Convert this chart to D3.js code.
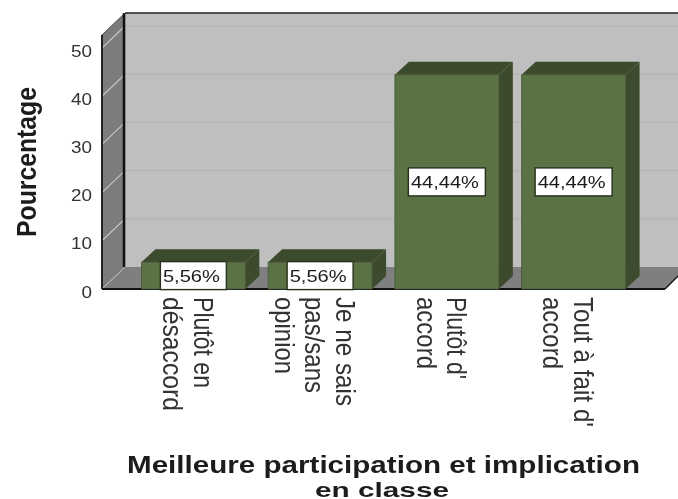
<!DOCTYPE html>
<html><head><meta charset="utf-8">
<style>html,body{margin:0;padding:0;background:#fff}svg{display:block;filter:blur(0.5px)}text{font-family:"Liberation Sans",Arial,sans-serif;fill:#1c1c1c}</style>
<script src="https://cdn.jsdelivr.net/npm/d3@7"></script></head><body>
<script>
const categories=["Plutôt en désaccord","Je ne sais pas/sans opinion","Plutôt d' accord","Tout à fait d' accord"];
const categoryLines=[["Plutôt en","désaccord"],["Je ne sais","pas/sans","opinion"],["Plutôt d'","accord"],["Tout à fait d'","accord"]];
const lineLengths=[[91,114],[109,96,77],[82,72],[130,72]];
const values=[5.56,5.56,44.44,44.44];
const valueLabels=["5,56%","5,56%","44,44%","44,44%"];
const yTicks=[0,10,20,30,40,50];
const yTitle="Pourcentage";
const xTitle=["Meilleure participation et implication","en classe"];

const W=678,H=499,dx=23,dy=22,bdx=14,bdy=13;
const svg=d3.select("body").append("svg").attr("width",W).attr("height",H);
const y=d3.scaleLinear().domain([0,50]).range([289,48]);
const x=d3.scaleBand().domain(categories).range([130,637]).paddingInner(0.18).paddingOuter(0.09);
const plotL=102,plotR=665,y0=y(0),plotT=y(50)-13;

const poly=(p,f)=>svg.append("polygon").attr("points",p.map(d=>d.join(",")).join(" ")).attr("fill",f);
const ln=(x1,y1,x2,y2,c,w)=>svg.append("line").attr("x1",x1).attr("y1",y1).attr("x2",x2).attr("y2",y2).attr("stroke",c).attr("stroke-width",w);

// wall, side wall, floor
poly([[plotL+dx,plotT-dy],[W,plotT-dy],[W,y0-dy],[plotL+dx,y0-dy]],"#bfbfbf");
poly([[plotL,plotT],[plotL+dx,plotT-dy],[plotL+dx,y0-dy],[plotL,y0]],"#7c7c7c");
poly([[plotL,y0],[plotL+dx,y0-dy],[W,y0-dy],[W,y0-13],[plotR,y0]],"#7f7f7f");
// gridlines
yTicks.slice(1).forEach(t=>{
  ln(plotL+dx,y(t)-dy,W,y(t)-dy,"#b2b2b2",1.2);
  ln(plotL,y(t),plotL+dx,y(t)-dy,"#c4c4c4",1.2);
});
ln(plotL,y0,plotL+dx,y0-dy,"#bdbdbd",1);
// frame
ln(plotL+dx,plotT-dy,W,plotT-dy,"#222",1.6);
ln(plotL+dx-1,plotT-dy,plotL+dx-1,y0-dy,"#111",2.6);
ln(plotL,plotT,plotL,y0,"#222",2);
ln(plotL,plotT,plotL+dx,plotT-dy,"#444",1);
ln(plotL,y0,plotR,y0,"#111",2);
ln(plotR,y0,W,y0-13,"#111",1.5);

// bars
values.forEach((v,i)=>{
  const c=categories[i],a=x(c),b=a+x.bandwidth(),t=y(v);
  poly([[b,t],[b+bdx,t-bdy],[b+bdx,y0-bdy],[b,y0]],"#3c4a2d");
  poly([[a,t],[a+bdx,t-bdy],[b+bdx,t-bdy],[b,t]],"#3c4a2d");
  svg.append("rect").attr("x",a).attr("y",t).attr("width",x.bandwidth()).attr("height",y0-t).attr("fill","#5a7244").attr("stroke","#46563a").attr("stroke-width",.8);
});
// value labels
values.forEach((v,i)=>{
  const c=categories[i],cx=x(c)+x.bandwidth()/2,cy=y(v/2);
  const long=valueLabels[i].length>5, w=long?77:66;
  svg.append("rect").attr("x",cx-w/2).attr("y",cy-14).attr("width",w).attr("height",28).attr("fill","#fff").attr("stroke","#26301c").attr("stroke-width",1.4);
  svg.append("text").attr("x",cx-2).attr("y",cy+6).attr("text-anchor","middle").attr("font-size",17)
    .attr("textLength",long?68:57).attr("lengthAdjust","spacingAndGlyphs").text(valueLabels[i]);
});
// y axis
const ax=svg.append("g").attr("transform","translate(92,3)").call(d3.axisLeft(y).tickValues(yTicks).tickSize(0).tickPadding(0).tickFormat(d3.format("d")));
ax.select(".domain").remove();
ax.selectAll("text").attr("font-size",16).style("font-family",'"Liberation Sans",Arial,sans-serif').style("fill","#333")
  .attr("textLength",d=>String(d).length*10.5).attr("lengthAdjust","spacingAndGlyphs");
// category labels
categoryLines.forEach((lines,i)=>{
  const cx=x(categories[i])+x.bandwidth()/2-15;
  const n=lines.length;
  lines.forEach((s,j)=>{
    const lx=cx+((n-1)/2-j)*30.5;
    svg.append("text").attr("transform",`translate(${lx},297) rotate(90)`)
      .attr("font-size",28).style("fill","#333").attr("textLength",lineLengths[i][j]).attr("lengthAdjust","spacingAndGlyphs").text(s);
  });
});
// titles
svg.append("text").attr("transform","translate(36,237) rotate(-90)").attr("font-size",27).attr("font-weight","bold")
  .attr("textLength",150).attr("lengthAdjust","spacingAndGlyphs").text(yTitle);
svg.append("text").attr("x",127).attr("y",473).attr("font-size",23).attr("font-weight","bold")
  .attr("textLength",513).attr("lengthAdjust","spacingAndGlyphs").text(xTitle[0]);
svg.append("text").attr("x",315).attr("y",496.5).attr("font-size",21).attr("font-weight","bold")
  .attr("textLength",134).attr("lengthAdjust","spacingAndGlyphs").text(xTitle[1]);
</script></body></html>
